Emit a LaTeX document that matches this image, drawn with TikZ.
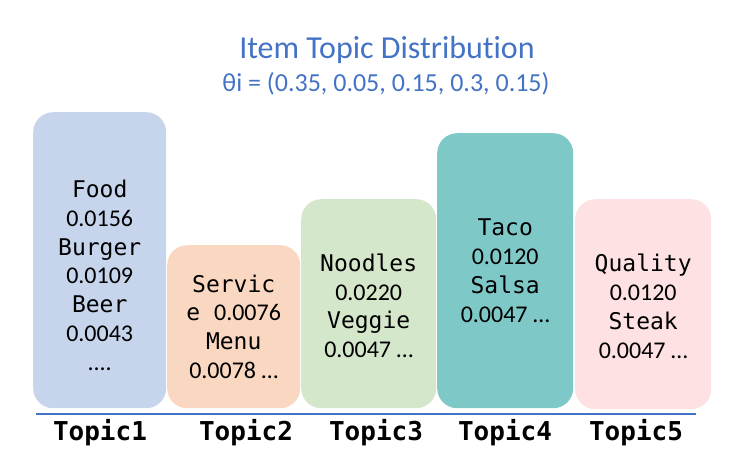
\documentclass[tikz,border=0pt]{standalone}
\usepackage{fontspec}
\setmainfont{Carlito}[Ligatures=NoCommon]
\setmonofont{DejaVu Sans Mono}
\usepackage{xcolor}
\definecolor{titleblue}{HTML}{4472C4}
\definecolor{barblue}{HTML}{C7D5EC}
\definecolor{barpeach}{HTML}{F9D7C0}
\definecolor{bargreen}{HTML}{D5E7CB}
\definecolor{barteal}{HTML}{7FC8C8}
\definecolor{barpink}{HTML}{FEE2E3}

\begin{document}
\begin{tikzpicture}[x=1pt,y=-1pt,
  bar/.style={rounded corners=20pt, inner sep=0pt, anchor=north west},
  words/.style={align=center, inner sep=0pt, font=\fontsize{24}{28.8}\selectfont},
  topic/.style={font=\fontsize{26}{26}\selectfont\ttfamily\bfseries, inner sep=0pt}]
  \useasboundingbox (0,0) rectangle (743,461);

  % title
  \node[titleblue, font=\fontsize{32}{32}\selectfont] (title) at (387,50) {Item Topic Distribution};
  \node[titleblue, font=\fontsize{26}{26}\selectfont] (theta) at (386,84) {θi = (0.35, 0.05, 0.15, 0.3, 0.15)};

  % bars
  \node[bar, fill=barblue, minimum width=133pt, minimum height=296pt] (t1) at (33,112) {};
  \node[bar, fill=barpeach, minimum width=133pt, minimum height=163pt] (t2) at (167,245) {};
  \node[bar, fill=bargreen, minimum width=135pt, minimum height=209pt] (t3) at (301,199) {};
  \node[bar, fill=barteal, minimum width=136pt, minimum height=275pt] (t4) at (437,133) {};
  \node[bar, fill=barpink, minimum width=136pt, minimum height=210pt] (t5) at (575,199) {};

  % words in each topic
  \node[words] (w1) at ([yshift=-15pt]t1.center)
    {{\ttfamily\fontsize{23}{28.8}\selectfont Food}\\0.0156\\{\ttfamily\fontsize{23}{28.8}\selectfont Burger}\\0.0109\\{\ttfamily\fontsize{23}{28.8}\selectfont Beer}\\0.0043\\....};
  \node[words] (w2) at (t2.center)
    {{\ttfamily\fontsize{23}{28.8}\selectfont Servic}\\{\ttfamily\fontsize{23}{28.8}\selectfont e }0.0076\\{\ttfamily\fontsize{23}{28.8}\selectfont Menu}\\0.0078 …};
  \node[words] (w3) at ([yshift=-2pt]t3.center)
    {{\ttfamily\fontsize{23}{28.8}\selectfont Noodles}\\0.0220\\{\ttfamily\fontsize{23}{28.8}\selectfont Veggie}\\0.0047 …};
  \node[words] (w4) at (t4.center)
    {{\ttfamily\fontsize{23}{28.8}\selectfont Taco}\\0.0120\\{\ttfamily\fontsize{23}{28.8}\selectfont Salsa}\\0.0047 …};
  \node[words] (w5) at ([yshift=-2pt]t5.center)
    {{\ttfamily\fontsize{23}{28.8}\selectfont Quality}\\0.0120\\{\ttfamily\fontsize{23}{28.8}\selectfont Steak}\\0.0047 …};

  % axis
  \coordinate (a) at (36,414);
  \coordinate (b) at (696,414);
  \draw[titleblue, line width=1.2pt] (a) -- (b);

  \node[topic] (l1) at (100,433) {Topic1};
  \node[topic] (l2) at (246,433) {Topic2};
  \node[topic] (l3) at (376,433) {Topic3};
  \node[topic] (l4) at (505,433) {Topic4};
  \node[topic] (l5) at (636,433) {Topic5};
\end{tikzpicture}
\end{document}
